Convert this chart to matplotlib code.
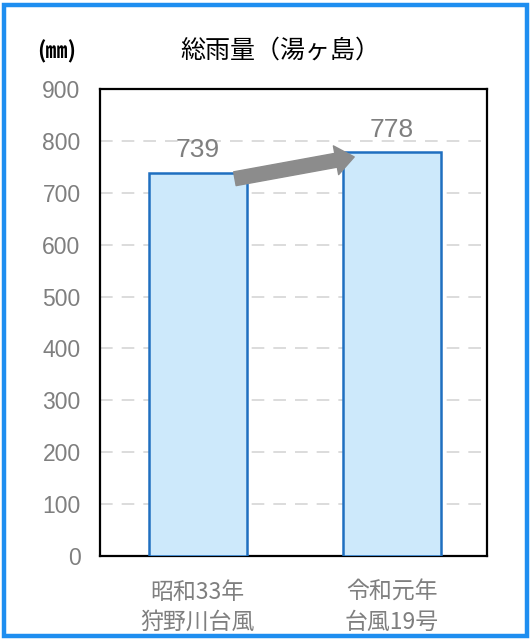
import matplotlib
matplotlib.use("Agg")
import matplotlib.pyplot as plt
from matplotlib.patches import Rectangle

plt.rcParams['font.family'] = ['Noto Sans CJK JP', 'DejaVu Sans']

# Data
categories = ["昭和33年\n狩野川台風", "令和元年\n台風19号"]
rainfall = [739, 778]
yticks = [0, 100, 200, 300, 400, 500, 600, 700, 800, 900]
title = "総雨量（湯ヶ島）"
unit = "(㎜)"

num_font = ['Liberation Sans', 'Noto Sans CJK JP']
gray = "#7f7f7f"

fig = plt.figure(figsize=(5.31, 6.40), dpi=100)
ax = fig.add_axes([0.1883, 0.1313, 0.7288, 0.7297])

x = list(range(len(rainfall)))
bar_w = 0.505
ax.bar(x, rainfall, width=bar_w, color="#cde9fb", edgecolor="#1f6fc0",
       linewidth=1.8, zorder=3)

ax.set_xlim(-0.503, 1.492)
ax.set_ylim(0, 900)
ax.set_yticks(yticks)
ax.set_yticklabels([str(t) for t in yticks], family=num_font, fontsize=16.5,
                   color=gray)
ax.set_xticks(x)
ax.set_xticklabels(categories, fontsize=16.5, color=gray, linespacing=1.4)
ax.tick_params(axis='both', length=0)
ax.tick_params(axis='y', pad=14)
ax.tick_params(axis='x', pad=18)

for yv in yticks[1:-1]:
    ax.axhline(yv, color="#d9d9d9", linewidth=1.3, dashes=(7, 5), zorder=1)

for s in ax.spines.values():
    s.set_color("black")
    s.set_linewidth(1.6)

# value labels
for xi, v in zip(x, rainfall):
    ax.text(xi, v + 20, str(v), ha="center", va="bottom", fontsize=19,
            color=gray, family=num_font, zorder=4)

# increase arrow between the bar tops
ax.annotate("", xy=(x[1] - bar_w / 2 + 0.06, rainfall[1] - 9),
            xytext=(x[0] + bar_w / 2 - 0.06, rainfall[0] - 12),
            arrowprops=dict(arrowstyle="simple,head_length=0.95,head_width=1.5,tail_width=0.72",
                            mutation_scale=14, color="#8c8c8c",
                            shrinkA=0, shrinkB=0),
            zorder=5)

fig.text(0.528, 0.921, title, ha="center", va="center", fontsize=18,
         color="black")
fig.text(0.107, 0.919, unit, ha="center", va="center", fontsize=16,
         color="black", weight="bold")

# blue frame around the figure
fig.patches.append(Rectangle((0.0075, 0.0055), 0.985, 0.986,
                             transform=fig.transFigure, fill=False,
                             edgecolor="#1e8ef0", linewidth=3.2))

fig.savefig("out.png", dpi=100)
